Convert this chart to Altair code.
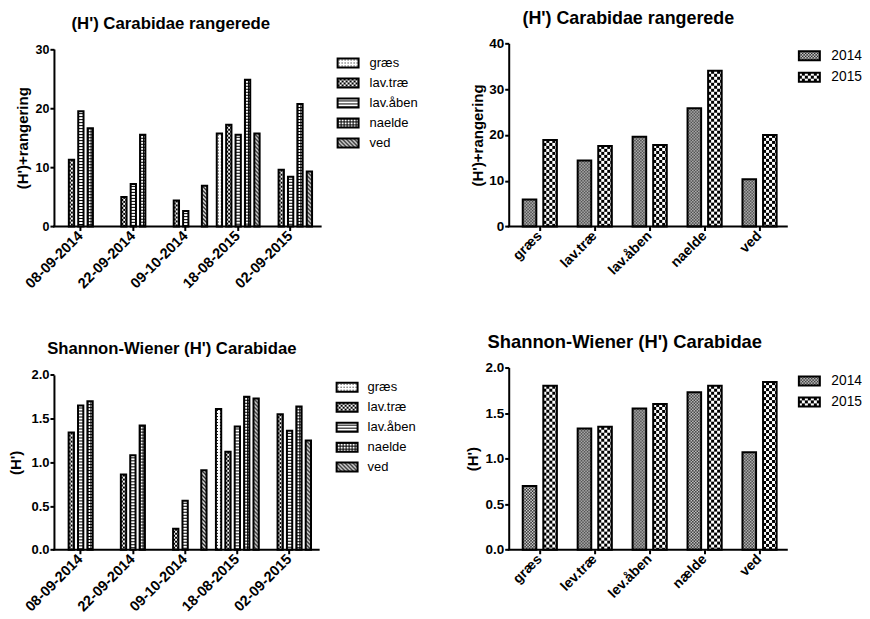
import base64
import altair as alt
import pandas as pd

FONT = "Liberation Sans"

# ---------------- data ----------------
dates = ["08-09-2014", "22-09-2014", "09-10-2014", "18-08-2015", "02-09-2015"]
habitats_left = ["græs", "lav.træ", "lav.åben", "naelde", "ved"]

# (H')+rangering per date (top-left)
rank_graes = [None, None, None, 15.7, None]
rank_lavtrae = [11.3, 5.0, 4.4, 17.2, 9.6]
rank_lavaaben = [19.5, 7.2, 2.6, 15.5, 8.4]
rank_naelde = [16.6, 15.5, None, 24.8, 20.7]
rank_ved = [None, None, 6.9, 15.7, 9.3]

# Shannon-Wiener H' per date (bottom-left)
h_graes = [None, None, None, 1.61, None]
h_lavtrae = [1.34, 0.86, 0.24, 1.12, 1.55]
h_lavaaben = [1.65, 1.08, 0.56, 1.41, 1.36]
h_naelde = [1.70, 1.42, None, 1.75, 1.64]
h_ved = [None, None, 0.91, 1.73, 1.25]

years = ["2014", "2015"]
habitats_tr = ["græs", "lav.træ", "lav.åben", "naelde", "ved"]
rank_2014 = [5.9, 14.4, 19.6, 25.8, 10.3]
rank_2015 = [18.9, 17.6, 17.8, 34.0, 20.0]

habitats_br = ["græs", "lev.træ", "lev.åben", "nælde", "ved"]
h_2014 = [0.70, 1.33, 1.55, 1.73, 1.07]
h_2015 = [1.80, 1.35, 1.60, 1.80, 1.84]

ticks_rank_left = [0, 10, 20, 30]
ticks_rank_right = [0, 10, 20, 30, 40]
ticks_h = [0.0, 0.5, 1.0, 1.5, 2.0]


# ---------------- fill patterns (styles) ----------------
def pattern_url(w, h, body):
    svg = ("<svg xmlns='http://www.w3.org/2000/svg'>"
           f"<defs><pattern id='p' width='{w}' height='{h}' patternUnits='userSpaceOnUse'>{body}</pattern></defs>"
           "<rect width='100%' height='100%' fill='url(#p)'/></svg>")
    return "data:image/svg+xml;base64," + base64.b64encode(svg.encode("utf-8")).decode("ascii")


P_DOTS = pattern_url(3, 3, "<rect width='3' height='3' fill='white'/><rect x='1' y='1' width='1' height='1' fill='black'/>")
P_CHECK2 = pattern_url(4, 4, "<rect width='4' height='4' fill='black'/><rect width='2' height='2' fill='white'/><rect x='2' y='2' width='2' height='2' fill='white'/>")
P_HSTRIPE = pattern_url(3, 3, "<rect width='3' height='3' fill='white'/><rect y='2' width='3' height='1' fill='black'/>")
P_GRID = pattern_url(3, 3, "<rect width='3' height='3' fill='white'/><rect width='3' height='1' fill='black'/><rect width='1' height='3' fill='black'/>")
P_DIAG = pattern_url(4, 4, "<rect width='4' height='4' fill='white'/><path d='M0,0 L4,4 M-1,3 L1,5 M3,-1 L5,1' stroke='black' stroke-width='1.3'/>")
P_FINE = pattern_url(3, 3, "<rect width='3' height='3' fill='black'/><rect width='1.5' height='1.5' fill='white'/><rect x='1.5' y='1.5' width='1.5' height='1.5' fill='white'/>")
P_COARSE = pattern_url(6, 6, "<rect width='6' height='6' fill='black'/><rect width='3' height='3' fill='white'/><rect x='3' y='3' width='3' height='3' fill='white'/>")

pat_left = dict(zip(habitats_left, [P_DOTS, P_CHECK2, P_HSTRIPE, P_GRID, P_DIAG]))
pat_years = dict(zip(years, [P_FINE, P_COARSE]))


def long_df(cats, sers, series_vals, pats):
    rows = []
    for s, vals in zip(sers, series_vals):
        for c, v in zip(cats, vals):
            if v is not None:
                rows.append({"cat": c, "ser": s, "value": v, "img": pats[s]})
    return pd.DataFrame(rows)


def panel(df, cats, sers, pats, *, title, title_size, title_dx, title_offset,
          ytitle, yticks, yfmt, ymax, W, H, ytop, pad_in, pad_out, x_align, bar_step, bar_w,
          ylab_size, ytitle_pad, xlab_size, leg_x, leg_y0, leg_step, leg_size, leg_txt_dx):
    xscale = alt.Scale(type="band", domain=cats, paddingInner=pad_in, paddingOuter=pad_out, align=x_align)
    yscale = alt.Scale(domain=[0, ymax], range=[H, ytop], nice=False, zero=True)
    xaxis = alt.Axis(title=None, labelAngle=-45, labelAlign="right", labelBaseline="middle",
                     labelFont=FONT, labelFontSize=xlab_size, labelFontWeight="bold", labelColor="black",
                     labelPadding=3, domain=False, ticks=True, tickColor="black", tickWidth=2, tickSize=4,
                     grid=False, labelOverlap=False)
    yaxis = alt.Axis(title=ytitle, values=yticks, format=yfmt, labelFont=FONT, labelFontSize=ylab_size,
                     labelFontWeight="bold", labelColor="black", labelPadding=1,
                     titleFont=FONT, titleFontSize=15, titleFontWeight="bold", titleColor="black",
                     titlePadding=ytitle_pad, domainColor="black", domainWidth=2, tickColor="black",
                     tickWidth=2, tickSize=4, grid=False)
    x_enc = alt.X("cat:N", sort=cats, scale=xscale, axis=xaxis)

    n = len(sers)
    fill_layers, outline_layers = [], []
    for j, s in enumerate(sers):
        off = (j - (n - 1) / 2) * bar_step
        sub = df[df["ser"] == s]
        fill_layers.append(alt.Chart(sub).mark_image(width=bar_w, xOffset=off, aspect=False).encode(
            x=x_enc, y=alt.Y("value:Q", scale=yscale, axis=yaxis if j == 0 else None), url=alt.Url("img:N")))
        outline_layers.append(alt.Chart(sub).mark_bar(size=bar_w, xOffset=off, fill="transparent",
                                                      stroke="black", strokeWidth=2).encode(
            x=x_enc, y=alt.Y("value:Q", scale=yscale, axis=None)))
    baseline = alt.Chart(pd.DataFrame({"value": [0]})).mark_rule(
        color="black", strokeWidth=2, strokeCap="square"
    ).encode(y=alt.Y("value:Q", scale=yscale, axis=None), x=alt.value(0), x2=alt.value(W))

    ldf = pd.DataFrame({"item": sers})
    ldf["img"] = [pats[s] for s in sers]
    lscale = alt.Scale(type="point", domain=sers, range=[leg_y0, leg_y0 + leg_step * (len(sers) - 1)], padding=0)
    ly = alt.Y("item:N", sort=sers, scale=lscale, axis=None)
    lbase = alt.Chart(ldf).encode(y=ly)
    limg = lbase.mark_image(width=21, height=9, align="center", baseline="middle", aspect=False).encode(
        x=alt.value(leg_x), url=alt.Url("img:N"))
    lbox = lbase.mark_point(shape="M-1,-0.4286L1,-0.4286L1,0.4286L-1,0.4286Z", size=441, filled=False,
                            stroke="black", strokeWidth=2, opacity=1).encode(x=alt.value(leg_x))
    ltxt = lbase.mark_text(align="left", baseline="middle", font=FONT, fontSize=leg_size, color="black").encode(
        x=alt.value(leg_x + leg_txt_dx), text="item:N")

    layers = fill_layers + outline_layers + [baseline, limg, lbox, ltxt]
    return alt.layer(*layers).resolve_scale(y="independent").properties(
        width=W, height=H,
        title=alt.Title(title, font=FONT, fontSize=title_size, fontWeight="bold", color="black",
                        anchor="middle", dx=title_dx, offset=title_offset),
    )


df_tl = long_df(dates, habitats_left, [rank_graes, rank_lavtrae, rank_lavaaben, rank_naelde, rank_ved], pat_left)
df_bl = long_df(dates, habitats_left, [h_graes, h_lavtrae, h_lavaaben, h_naelde, h_ved], pat_left)
df_tr = long_df(habitats_tr, years, [rank_2014, rank_2015], pat_years)
df_br = long_df(habitats_br, years, [h_2014, h_2015], pat_years)

H1 = 183.4
H2 = 182.4

tl = panel(df_tl, dates, habitats_left, pat_left, title="(H') Carabidae rangerede", title_size=16.8,
           title_dx=-16.5, title_offset=10, ytitle="(H')+rangering", yticks=ticks_rank_left, yfmt="d",
           ymax=30, W=267, H=H1, ytop=5.7, pad_in=0.18, pad_out=0.133, x_align=0.39, bar_step=9.4, bar_w=5.3,
           ylab_size=12.5, ytitle_pad=5, xlab_size=14.5, leg_x=294.5, leg_y0=19.7, leg_step=20,
           leg_size=13, leg_txt_dx=21.5)
tr = panel(df_tr, habitats_tr, years, pat_years, title="(H') Carabidae rangerede", title_size=17.9,
           title_dx=-19.5, title_offset=8, ytitle="(H')+rangering", yticks=ticks_rank_right, yfmt="d",
           ymax=40, W=278.4, H=H1, ytop=0, pad_in=0.378, pad_out=0.22, x_align=0.58, bar_step=20.6, bar_w=13.6,
           ylab_size=13.5, ytitle_pad=3, xlab_size=14, leg_x=301, leg_y0=12.4, leg_step=21.5,
           leg_size=13.8, leg_txt_dx=22)
bl = panel(df_bl, dates, habitats_left, pat_left, title="Shannon-Wiener (H') Carabidae", title_size=16.7,
           title_dx=-14.5, title_offset=9.7, ytitle="(H')", yticks=ticks_h, yfmt=".1f",
           ymax=2, W=265, H=H2, ytop=7.4, pad_in=0.18, pad_out=0.124, x_align=0.41, bar_step=9.4, bar_w=5.3,
           ylab_size=13, ytitle_pad=7, xlab_size=14.5, leg_x=293.5, leg_y0=19.7, leg_step=20,
           leg_size=13, leg_txt_dx=20.5)
br = panel(df_br, habitats_br, years, pat_years, title="Shannon-Wiener (H') Carabidae", title_size=18.4,
           title_dx=-23, title_offset=9.2, ytitle="(H')", yticks=ticks_h, yfmt=".1f",
           ymax=2, W=278.4, H=H2, ytop=0, pad_in=0.378, pad_out=0.22, x_align=0.58, bar_step=20.6, bar_w=13.6,
           ylab_size=13.5, ytitle_pad=4.5, xlab_size=14, leg_x=301, leg_y0=13.4, leg_step=21,
           leg_size=13.8, leg_txt_dx=22)

chart = alt.concat(tl, tr, bl, br, columns=2, spacing={"row": 140.6, "column": 188.3},
                   bounds="flush", align="each").properties(
    padding={"top": 2, "left": 0, "right": 0, "bottom": 0}, background="white").configure(
    font=FONT).configure_view(stroke=None)

chart.save("out.html", embed_options={"renderer": "svg", "actions": False})
